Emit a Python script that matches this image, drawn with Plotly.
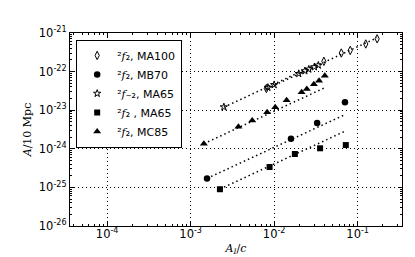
import plotly.graph_objects as go
import numpy as np

# ---- data ----
# 2f2, MA100 (open thin diamonds)
ma100_x = [8.07e-3, 3.94e-2, 6.37e-2, 8.15e-2, 1.25e-1, 1.71e-1]
ma100_y = [3.65e-23, 1.85e-22, 3.03e-22, 3.53e-22, 5.19e-22, 7.08e-22]
ma100_k = 4.4e-21

# 2f2, MB70 (filled circles)
mb70_x = [1.57e-3, 1.59e-2, 3.27e-2, 7.05e-2]
mb70_y = [1.70e-25, 1.83e-24, 4.66e-24, 1.61e-23]
mb70_k = 1.09e-22

# 2f-2, MA65 (open stars)
ma65m_x = [2.50e-3, 8.41e-3, 1.00e-2, 1.97e-2, 2.33e-2, 2.60e-2, 3.03e-2, 3.38e-2]
ma65m_y = [1.21e-23, 3.87e-23, 4.55e-23, 8.83e-23, 1.04e-22, 1.15e-22, 1.32e-22, 1.46e-22]
ma65m_k = 4.8e-21

# 2f2, MA65 (filled squares)
ma65_x = [2.24e-3, 8.81e-3, 1.77e-2, 3.55e-2, 7.21e-2]
ma65_y = [8.97e-26, 3.37e-25, 7.33e-25, 1.03e-24, 1.25e-24]
ma65_k = 4.05e-23

# 2f2, MC85 (filled triangles)
mc85_x = [1.44e-3, 3.73e-3, 5.46e-3, 8.24e-3, 1.03e-2, 1.41e-2, 2.13e-2, 2.46e-2, 2.99e-2, 3.45e-2, 4.04e-2]
mc85_y = [1.36e-24, 3.74e-24, 5.41e-24, 8.87e-24, 1.19e-23, 1.80e-23, 2.91e-23, 3.54e-23, 4.69e-23, 5.81e-23, 7.83e-23]
mc85_k = 9.44e-22

x_exps = [-4, -3, -2, -1]
y_exps = [-26, -25, -24, -23, -22, -21]
x_ticks = [10.0 ** e for e in x_exps]
y_ticks = [10.0 ** e for e in y_exps]
x_ticktext = ["10<sup>-%d</sup>" % -e for e in x_exps]
y_ticktext = ["10<sup>-%d</sup>" % -e for e in y_exps]

F = '<span style="font-family:DejaVu Serif"><i>f</i></span>'
series = [
    ("\u00b2" + F + "\u2082, MA100", ma100_x, ma100_y, ma100_k,
     dict(symbol="diamond-tall-open", size=6, color="black", line=dict(width=1, color="black"))),
    ("\u00b2" + F + "\u2082, MB70", mb70_x, mb70_y, mb70_k,
     dict(symbol="circle", size=6.5, color="black")),
    ("\u00b2" + F + "\u208b\u2082, MA65", ma65m_x, ma65m_y, ma65m_k,
     dict(symbol="star-open", size=5.5, color="black", line=dict(width=1, color="black"))),
    ("\u00b2" + F + "\u2082 , MA65", ma65_x, ma65_y, ma65_k,
     dict(symbol="square", size=6, color="black")),
    ("\u00b2" + F + "\u2082, MC85", mc85_x, mc85_y, mc85_k,
     dict(symbol="triangle-up", size=7, color="black")),
]

fig = go.Figure()
# dotted fit lines (A proportional to A_I/c)
for name, xs, ys, k, mk in series:
    lx = np.array([min(xs), max(xs)])
    fig.add_trace(go.Scatter(x=lx, y=k * lx, mode="lines", showlegend=False,
                             line=dict(color="black", width=1.5, dash="1.5px,3px"),
                             hoverinfo="skip"))
for name, xs, ys, k, mk in series:
    fig.add_trace(go.Scatter(x=xs, y=ys, mode="markers", name=name, marker=mk))

axis_common = dict(
    type="log", automargin=False,
    showline=True, linecolor="black", linewidth=1.2, mirror="allticks",
    ticks="inside", ticklen=4, tickwidth=1, tickcolor="black",
    showgrid=True, gridcolor="black", gridwidth=1, griddash="1px,3px",
    zeroline=False,
    minor=dict(ticks="inside", ticklen=2, tickwidth=0.8, tickcolor="black", dtick="D1", showgrid=False),
    tickfont=dict(family="DejaVu Sans", size=11.5, color="black"),
)

fig.update_xaxes(range=[-4.445, -0.469], tickvals=x_ticks, ticktext=x_ticktext,
                 ticklabelstandoff=-3,
                 title=dict(text="<i>A<sub>I</sub></i>/<i>c</i>", standoff=4,
                            font=dict(family="DejaVu Serif", size=11, color="black")),
                 **axis_common)
fig.update_yaxes(range=[-26, -21], tickvals=y_ticks, ticktext=y_ticktext,
                 title=dict(text="<i>A</i>/10 Mpc", standoff=4,
                            font=dict(family="DejaVu Serif", size=11, color="black")),
                 **axis_common)

fig.update_layout(
    width=415, height=257,
    margin=dict(l=62, r=21, t=25, b=39),
    paper_bgcolor="white", plot_bgcolor="white",
    font=dict(family="DejaVu Sans", size=10, color="black"),
    legend=dict(x=0.018, y=0.965, xanchor="left", yanchor="top",
                bordercolor="black", borderwidth=1.2, bgcolor="white",
                font=dict(family="DejaVu Sans", size=11, color="black"),
                tracegroupgap=0, itemwidth=30),
    showlegend=True,
)

fig.write_html("out.html")
